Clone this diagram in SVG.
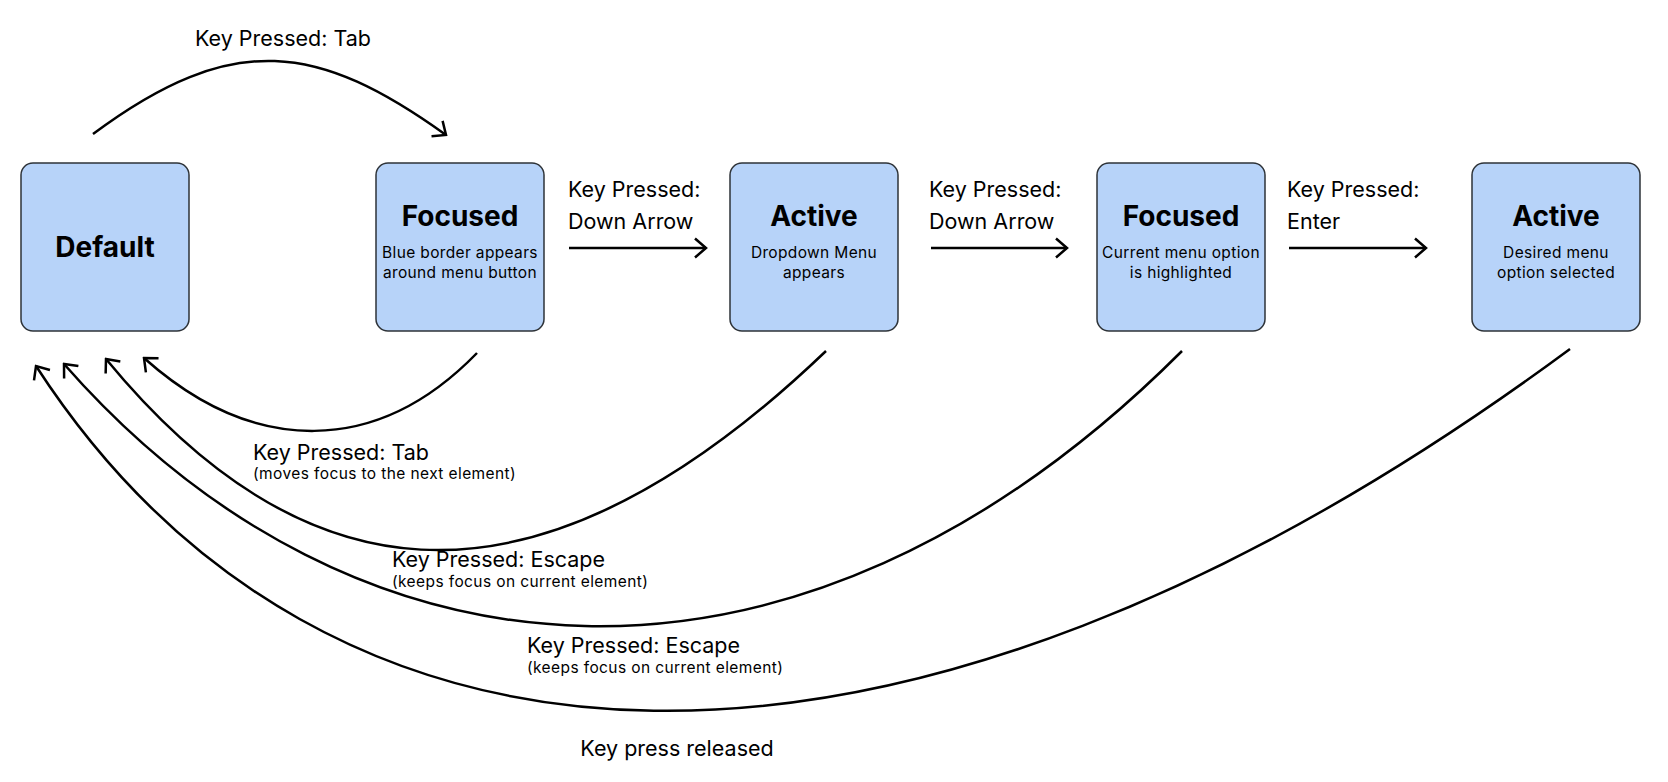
<svg xmlns="http://www.w3.org/2000/svg" width="1668" height="782" viewBox="0 0 1668 782">
<style>
.box{fill:#b7d3f9;stroke:#2e3338;stroke-width:1.5}
.title{font-family:Inter,"Liberation Sans",sans-serif;font-weight:700;font-size:28px;fill:#000;text-anchor:middle}
.sub{font-family:Inter,"Liberation Sans",sans-serif;font-size:15.5px;letter-spacing:0.35px;fill:#000;text-anchor:middle}
.lbl{font-family:Inter,"Liberation Sans",sans-serif;font-size:21.5px;fill:#000}
.small{font-family:Inter,"Liberation Sans",sans-serif;font-size:15.5px;letter-spacing:0.4px;fill:#000}
.conn{fill:none;stroke:#000;stroke-width:2.5;marker-end:url(#arr)}
</style>
<defs>
<marker id="arr" markerUnits="userSpaceOnUse" viewBox="0 0 14 22" refX="12" refY="11" markerWidth="14" markerHeight="22" orient="auto">
<path d="M1,1.5 L12,11 L1,20.5" fill="none" stroke="#000" stroke-width="2.5"/>
</marker>
</defs>
<rect width="1668" height="782" fill="#fff"/>
<g id="connectors">
<path class="conn" d="M93,134 C234,29 319,44 446,135"/>
<path class="conn" d="M569,248 L706,248"/>
<path class="conn" d="M931,248 L1067,248"/>
<path class="conn" d="M1289,248 L1426,248"/>
<path class="conn" d="M477,353 C377,456 254,456 144,358"/>
<path class="conn" d="M826,351 C520,644 292,585 106,359"/>
<path class="conn" d="M1182,351 C793,740 351,691 64,364"/>
<path class="conn" d="M1570,349 C888,853 320,804 36,366"/>
</g>
<g id="labels">
<text class="lbl" x="283" y="45.5" text-anchor="middle">Key Pressed: Tab</text>
<text class="lbl" x="568" y="196.5">Key Pressed:</text>
<text class="lbl" x="568" y="228.5">Down Arrow</text>
<text class="lbl" x="929" y="196.5">Key Pressed:</text>
<text class="lbl" x="929" y="228.5">Down Arrow</text>
<text class="lbl" x="1287" y="196.5">Key Pressed:</text>
<text class="lbl" x="1287" y="228.5">Enter</text>
<text class="lbl" x="253" y="459.5">Key Pressed: Tab</text>
<text class="small" x="253" y="478.5">(moves focus to the next element)</text>
<text class="lbl" x="392" y="566.5">Key Pressed: Escape</text>
<text class="small" x="392" y="586.5">(keeps focus on current element)</text>
<text class="lbl" x="527" y="652.5">Key Pressed: Escape</text>
<text class="small" x="527" y="672.5">(keeps focus on current element)</text>
<text class="lbl" x="677" y="755.5" text-anchor="middle">Key press released</text>
</g>
<g id="node-default">
<rect class="box" x="21" y="163" width="168" height="168" rx="12"/>
<text class="title" x="105" y="257">Default</text>
</g>
<g id="node-focused-1">
<rect class="box" x="376" y="163" width="168" height="168" rx="12"/>
<text class="title" x="460" y="226">Focused</text>
<text class="sub" x="460" y="258">Blue border appears</text>
<text class="sub" x="460" y="278">around menu button</text>
</g>
<g id="node-active-1">
<rect class="box" x="730" y="163" width="168" height="168" rx="12"/>
<text class="title" x="814" y="226">Active</text>
<text class="sub" x="814" y="258">Dropdown Menu</text>
<text class="sub" x="814" y="278">appears</text>
</g>
<g id="node-focused-2">
<rect class="box" x="1097" y="163" width="168" height="168" rx="12"/>
<text class="title" x="1181" y="226">Focused</text>
<text class="sub" x="1181" y="258">Current menu option</text>
<text class="sub" x="1181" y="278">is highlighted</text>
</g>
<g id="node-active-2">
<rect class="box" x="1472" y="163" width="168" height="168" rx="12"/>
<text class="title" x="1556" y="226">Active</text>
<text class="sub" x="1556" y="258">Desired menu</text>
<text class="sub" x="1556" y="278">option selected</text>
</g>
</svg>
